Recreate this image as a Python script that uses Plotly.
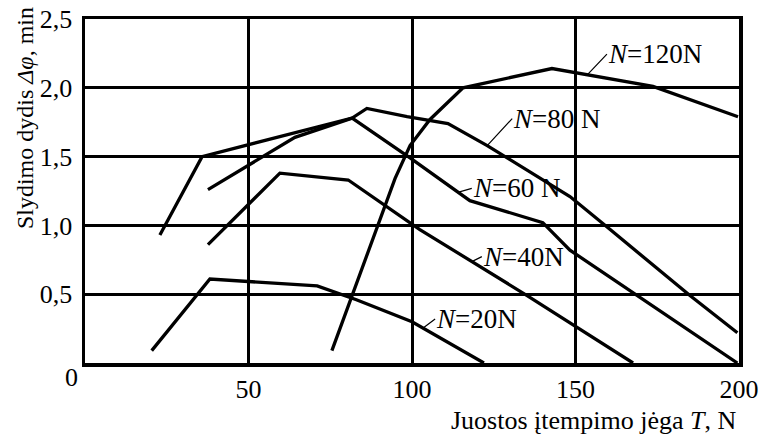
import plotly.graph_objects as go

# ---- data ----
T_20 = [20.4, 38.2, 71.0, 83.0, 100.0, 122.0]
V_20 = [0.09, 0.61, 0.56, 0.46, 0.30, 0.00]

T_40 = [37.6, 59.6, 80.5, 102.4, 135.2, 167.6]
V_40 = [0.86, 1.38, 1.33, 0.97, 0.49, 0.00]

T_60 = [37.6, 64.2, 81.7, 96.9, 99.4, 117.7, 140.0, 148.3, 199.5]
V_60 = [1.26, 1.64, 1.78, 1.53, 1.49, 1.18, 1.02, 0.82, 0.00]

T_80 = [22.9, 35.8, 81.7, 86.2, 98.5, 111.0, 123.0, 148.3, 160.6, 185.0, 199.5]
V_80 = [0.93, 1.50, 1.78, 1.85, 1.79, 1.74, 1.58, 1.21, 0.97, 0.49, 0.22]

T_120 = [75.5, 94.8, 99.4, 105.5, 115.6, 142.8, 173.7, 199.7]
V_120 = [0.09, 1.34, 1.58, 1.77, 2.00, 2.14, 2.01, 1.79]

x_ticks = [50, 100, 150, 200]
x_ticklabels = ["50", "100", "150", "200"]
y_ticks = [0.5, 1.0, 1.5, 2.0, 2.5]
y_ticklabels = ["0,5", "1,0", "1,5", "2,0", "2,5"]

series = [
    ("N=20N", T_20, V_20),
    ("N=40N", T_40, V_40),
    ("N=60N", T_60, V_60),
    ("N=80N", T_80, V_80),
    ("N=120N", T_120, V_120),
]

FONT = "Liberation Serif"

fig = go.Figure()
for name, xs, ys in series:
    fig.add_trace(go.Scatter(x=xs, y=ys, mode="lines", name=name,
                             line=dict(color="black", width=3.3),
                             showlegend=False, hoverinfo="skip"))

# curve labels with short leader lines: (head x, head y, ax, ay, text)
labels = [
    (153.8, 2.10, 19, -20, "<i>N</i>=120N"),
    (123.0, 1.58, 25, -27, "<i>N</i>=80 N"),
    (114.0, 1.24, 14, -4, "<i>N</i>=60 N"),
    (118.3, 0.737, 10, -5, "<i>N</i>=40N"),
    (103.4, 0.254, 12, -9, "<i>N</i>=20N"),
]
annotations = []
for hx, hy, ax, ay, txt in labels:
    annotations.append(dict(
        x=hx, y=hy, xref="x", yref="y", text=txt, showarrow=True,
        ax=ax, ay=ay, axref="pixel", ayref="pixel", arrowhead=0,
        arrowwidth=1.2, arrowcolor="black", xanchor="left", yanchor="middle",
        font=dict(family=FONT, size=27, color="black"), borderpad=0,
        bgcolor="rgba(0,0,0,0)"))

annotations += [
    dict(text="0", xref="paper", yref="paper", x=-0.02, y=-0.041,
         showarrow=False, xanchor="center", yanchor="middle",
         font=dict(family=FONT, size=26, color="black")),
    dict(text="Juostos įtempimo jėga <i>T</i>, N", xref="paper", yref="paper",
         x=1.0, y=-0.166, showarrow=False, xanchor="right", yanchor="middle",
         font=dict(family=FONT, size=26, color="black")),
    dict(text="Slydimo dydis <i>Δφ</i>, min", xref="paper", yref="paper",
         x=-0.0917, y=0.712, showarrow=False, textangle=-90,
         xanchor="center", yanchor="middle",
         font=dict(family=FONT, size=24, color="black")),
]

fig.update_layout(
    width=759, height=435,
    margin=dict(l=85, r=20, t=19, b=72, autoexpand=False),
    paper_bgcolor="white", plot_bgcolor="white",
    font=dict(family=FONT, size=26, color="black"),
    annotations=annotations,
)
fig.update_xaxes(range=[0, 200], tickvals=x_ticks, ticktext=x_ticklabels,
                 showgrid=True, gridcolor="black", gridwidth=3,
                 showline=True, linecolor="black", linewidth=3.5, mirror=True,
                 zeroline=False, ticks="", ticklabelstandoff=0, automargin=False,
                 tickfont=dict(family=FONT, size=26, color="black"))
fig.update_yaxes(range=[0, 2.5], tickvals=y_ticks, ticktext=y_ticklabels,
                 showgrid=True, gridcolor="black", gridwidth=3,
                 showline=True, linecolor="black", linewidth=3.5, mirror=True,
                 zeroline=False, ticks="", ticklabelstandoff=4, automargin=False,
                 tickfont=dict(family=FONT, size=26, color="black"))

fig.write_html(
    "out.html",
    config={"displayModeBar": False, "staticPlot": True},
    post_script="document.body.style.margin='0';document.body.style.overflow='hidden';",
)
